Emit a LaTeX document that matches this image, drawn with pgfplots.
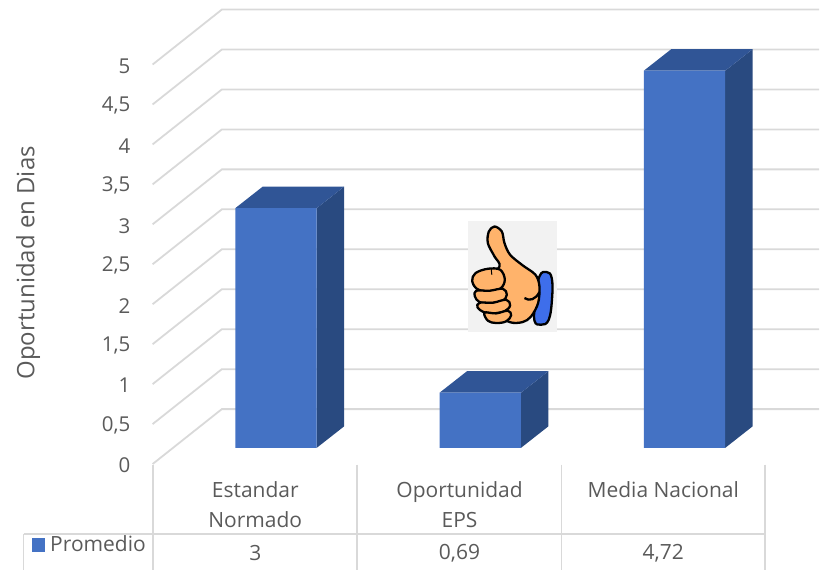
\documentclass[border=0pt]{standalone}
\usepackage{fontspec}
\setmainfont{Open Sans}
\usepackage{pgfplots}
\pgfplotsset{compat=1.18}
\definecolor{gridc}{HTML}{D9D9D9}
\definecolor{txt}{HTML}{5A5A5A}
\definecolor{front}{HTML}{4472C4}
\definecolor{topf}{HTML}{305596}
\definecolor{sidef}{HTML}{294A80}
\definecolor{skin}{RGB}{255,179,107}
\definecolor{cuff}{RGB}{62,110,235}
\begin{document}
\begin{tikzpicture}
\begin{axis}[
  scale only axis, width=820pt, height=571pt,
  xmin=0, xmax=820, ymin=-1.33125, ymax=5.80625,
  clip=false,
  axis line style={draw=none},
  major tick length=0pt,
  ytick={0,0.5,1,1.5,2,2.5,3,3.5,4,4.5,5},
  yticklabels={0,{0,5},1,{1,5},2,{2,5},3,{3,5},4,{4,5},5},
  y tick label style={xshift=134pt,yshift=-1.5pt,font=\fontsize{20.5}{24}\selectfont,text=txt},
  xtick={255.5,460,664},
  xticklabels={{Estandar\\Normado},{Oportunidad\\EPS},{Media Nacional}},
  x tick label style={align=center,anchor=north,yshift=92pt,font=\fontsize{21}{30}\selectfont,text=txt},
  every axis y label/.style={at={(axis description cs:0.0342,0.5394)},rotate=90,anchor=center},
  ylabel={\fontsize{24}{26}\selectfont\color{txt}Oportunidad en Dias},
  legend style={at={(axis cs:32,-1.0)},anchor=west,draw=none,fill=none,inner xsep=0pt,inner ysep=0pt,
    font=\fontsize{21}{24}\selectfont\color{txt},nodes={inner xsep=5pt}},
  legend image code/.code={\fill[front] (0pt,-24pt) rectangle (13pt,-10pt);},
]
% wall and side gridlines: front edge, back edge, right end
\addplot[gridc,line width=1.8pt,forget plot] coordinates {(152.7,0)(222,0.6875)(820,0.6875)};
\addplot[gridc,line width=1.8pt,forget plot] coordinates {(152.7,0.5)(222,1.1875)(820,1.1875)};
\addplot[gridc,line width=1.8pt,forget plot] coordinates {(152.7,1)(222,1.6875)(820,1.6875)};
\addplot[gridc,line width=1.8pt,forget plot] coordinates {(152.7,1.5)(222,2.1875)(820,2.1875)};
\addplot[gridc,line width=1.8pt,forget plot] coordinates {(152.7,2)(222,2.6875)(820,2.6875)};
\addplot[gridc,line width=1.8pt,forget plot] coordinates {(152.7,2.5)(222,3.1875)(820,3.1875)};
\addplot[gridc,line width=1.8pt,forget plot] coordinates {(152.7,3)(222,3.6875)(820,3.6875)};
\addplot[gridc,line width=1.8pt,forget plot] coordinates {(152.7,3.5)(222,4.1875)(820,4.1875)};
\addplot[gridc,line width=1.8pt,forget plot] coordinates {(152.7,4)(222,4.6875)(820,4.6875)};
\addplot[gridc,line width=1.8pt,forget plot] coordinates {(152.7,4.5)(222,5.1875)(820,5.1875)};
\addplot[gridc,line width=1.8pt,forget plot] coordinates {(152.7,5)(222,5.6875)(820,5.6875)};
% side and top faces
\addplot[fill=sidef,draw=none,yshift=16.2pt,forget plot] coordinates {(317,0)(344.5,0.27)(344.5,3.27)(317,3)} -- cycle;
\addplot[fill=topf,draw=none,yshift=16.2pt,forget plot] coordinates {(235.5,3)(263,3.27)(344.5,3.27)(317,3)} -- cycle;
\addplot[fill=sidef,draw=none,yshift=16.2pt,forget plot] coordinates {(521.5,0)(549,0.27)(549,0.96)(521.5,0.69)} -- cycle;
\addplot[fill=topf,draw=none,yshift=16.2pt,forget plot] coordinates {(440,0.69)(467.5,0.96)(549,0.96)(521.5,0.69)} -- cycle;
\addplot[fill=sidef,draw=none,yshift=16.2pt,forget plot] coordinates {(726,0)(753.5,0.27)(753.5,4.99)(726,4.72)} -- cycle;
\addplot[fill=topf,draw=none,yshift=16.2pt,forget plot] coordinates {(644.5,4.72)(672,4.99)(753.5,4.99)(726,4.72)} -- cycle;
% front faces: the values
\addplot[ybar,bar width=81.5pt,bar shift=0pt,fill=front,draw=none,yshift=16.2pt]
  coordinates {(276.25,3)(480.75,0.69)(685.25,4.72)};
\addlegendentry{Promedio}
\end{axis}
% pixel coordinates of the reference
\begin{scope}[x=1pt,y=-1pt,shift={(0pt,571pt)}]
  % data table rules
  \draw[gridc,line width=1.8pt] (23.5,534.3) -- (766,534.3);
  \draw[gridc,line width=1.8pt] (23.5,534.3) -- (23.5,571);
  \draw[gridc,line width=1.8pt] (152.7,465) -- (152.7,571);
  \draw[gridc,line width=1.8pt] (357,465) -- (357,571);
  \draw[gridc,line width=1.8pt] (562,465) -- (562,571);
  \draw[gridc,line width=1.8pt] (766,465) -- (766,571);
  \foreach \x/\t in {255.5/3,460/{0,69},664/{4,72}}
    \node[text=txt,font=\fontsize{21}{24}\selectfont,inner sep=0pt] at (\x,554) {\t};
  % thumbs-up picture
  \fill[black!5] (468.5,221) rectangle (558,332);
  \begin{scope}[x=0.3333pt,y=-0.3333pt,shift={(460pt,-215pt)},line width=2.3pt,line join=round]
    \draw[fill=cuff] plot[smooth cycle,tension=0.7] coordinates {(240,185)(262,172)(277,190)(278,250)(268,315)(245,330)(225,318)(228,260)};
    \draw[fill=skin] plot[smooth cycle,tension=0.55] coordinates {(105,35)(127,50)(135,85)(152,120)(190,152)(228,180)(240,215)(236,265)(215,305)(190,322)(150,322)(110,290)(80,200)(120,155)(105,125)(85,85)(88,50)};
    \draw[fill=skin] plot[smooth cycle,tension=0.6] coordinates {(48,175)(85,162)(122,165)(136,195)(122,222)(85,230)(52,222)(38,198)};
    \draw[fill=skin] plot[smooth cycle,tension=0.6] coordinates {(50,228)(90,228)(130,222)(142,240)(128,260)(90,265)(60,262)(46,245)};
    \draw[fill=skin] plot[smooth cycle,tension=0.6] coordinates {(60,264)(100,264)(140,255)(152,272)(135,290)(100,296)(72,292)(54,278)};
    \draw[fill=skin] plot[smooth cycle,tension=0.6] coordinates {(75,294)(110,296)(145,288)(155,302)(140,320)(110,325)(85,318)};
    \draw (195,250) .. controls (210,260) and (228,255) .. (240,232);
    \draw[line width=1pt] (95,162) -- (97,180);
  \end{scope}
\end{scope}
\end{tikzpicture}
\end{document}
